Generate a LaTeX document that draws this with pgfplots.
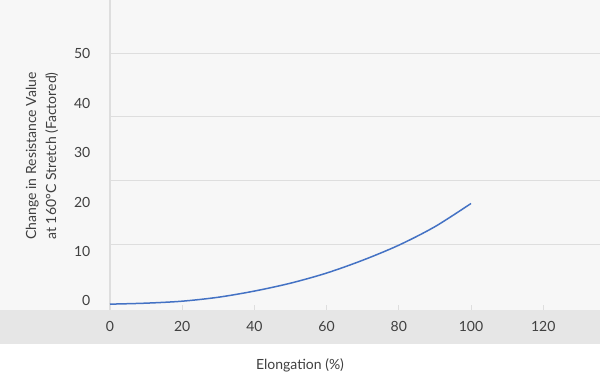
\documentclass[border=0pt]{standalone}
\usepackage{pgfplots}
\pgfplotsset{compat=1.18}
\usepackage{fontspec}
\setmainfont{Lato}
\definecolor{bgtop}{HTML}{F7F7F7}
\definecolor{band}{HTML}{E6E6E6}
\definecolor{gridc}{HTML}{DEDEDE}
\definecolor{txt}{HTML}{404040}
\definecolor{curve}{HTML}{4472C4}
\begin{document}
\begin{tikzpicture}
\fill[white] (0pt,0pt) rectangle (600pt,374pt);
\fill[bgtop] (0pt,64pt) rectangle (600pt,374pt);
\fill[band] (0pt,30pt) rectangle (600pt,64pt);
\begin{axis}[
  at={(110pt,64pt)}, anchor=south west,
  scale only axis, width=490pt, height=310pt,
  xmin=0, xmax=135.73, ymin=-1.885, ymax=60.94,
  axis x line=bottom, axis y line=left,
  axis line style={-},
  x axis line style={draw=none},
  y axis line style={gridc, line width=1.5pt},
  xtick={0,20,...,120},
  ytick={0,10,...,50},
  xtick align=inside,
  major tick length=5pt,
  xtick style={gridc, line width=1pt},
  ytick style={draw=none},
  /pgf/number format/assume math mode=true,
  tick label style={font=\fontsize{14}{16}\selectfont, text=txt},
  xticklabel style={anchor=center, yshift=-16pt},
  yticklabel style={anchor=east, inner sep=0pt, xshift=-17pt},
  extra y ticks={11.35,24.32,37.29,50.14},
  extra y tick labels={},
  extra y tick style={grid=major, ytick style={draw=none}},
  major grid style={gridc, line width=1.3pt},
  xlabel={Elongation (\%)},
  ylabel={Change in Resistance Value\\at 160°C Stretch (Factored)},
  every axis x label/.style={at={(axis description cs:0.3878,-0.1774)}, anchor=center, font=\fontsize{14}{16}\selectfont, text=txt},
  every axis y label/.style={at={(axis description cs:-0.1388,0.497)}, rotate=90, anchor=center, align=center, font=\fontsize{14}{20}\selectfont, text=txt},
]
\addplot[curve, line width=1.5pt, smooth] coordinates {
(0,-0.7) (10,-0.5) (20,-0.1) (30,0.7) (40,1.95) (50,3.55) (60,5.6) (70,8.2) (80,11.25) (90,15.0) (100,19.7)
};
\end{axis}
\pgfresetboundingbox
\useasboundingbox (0pt,0pt) rectangle (600pt,374pt);
\end{tikzpicture}
\end{document}
